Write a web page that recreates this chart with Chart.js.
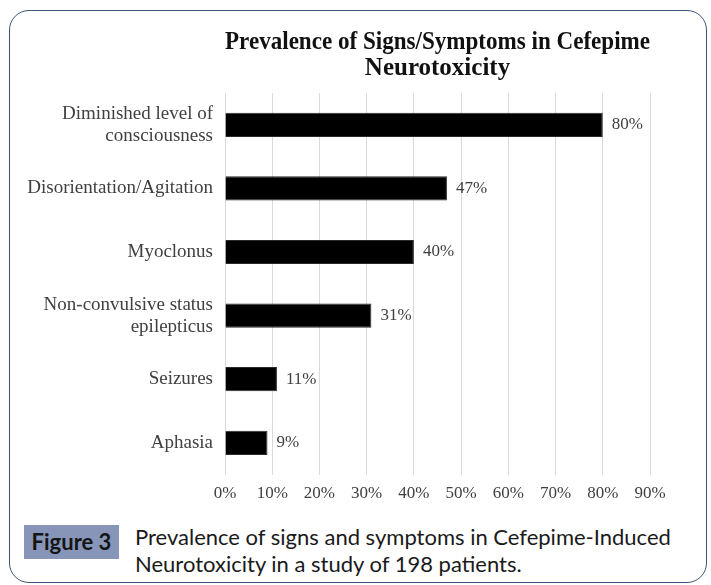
<!DOCTYPE html>
<html>
<head>
<meta charset="utf-8">
<script src="https://cdn.jsdelivr.net/npm/chart.js@4"></script>
<style>
  html, body { margin: 0; padding: 0; background: #fff; }
  body { width: 711px; height: 585px; position: relative; overflow: hidden; }
  .frame {
    position: absolute; left: 9px; top: 10px; width: 696px; height: 571px;
    border: 1.5px solid #3d5578; border-radius: 20px;
  }
  .chart-wrap { position: absolute; left: 10px; top: 10px; width: 696px; height: 503px; }
  .fig-tag {
    position: absolute; left: 24px; top: 525px; width: 95px; height: 34px;
    background: #8796b8; color: #151515; font: bold 22px Lato, sans-serif;
    line-height: 34px; text-align: center;
  }
  .caption {
    position: absolute; left: 135px; top: 523px; width: 570px;
    font: 22px Lato, sans-serif; color: #1a1a1a; line-height: 27px;
  }
</style>
</head>
<body>
<div class="frame"></div>
<div class="chart-wrap"><canvas id="myChart"></canvas></div>
<div class="fig-tag">Figure 3</div>
<div class="caption">Prevalence of signs and symptoms in Cefepime-Induced Neurotoxicity in a study of 198 patients.</div>
<script>
const categories = [
    ['Diminished level of', 'consciousness'],
    'Disorientation/Agitation',
    'Myoclonus',
    ['Non-convulsive status', 'epilepticus'],
    'Seizures',
    'Aphasia'
];
const prevalence = [80, 47, 40, 31, 11, 9];
const tickValues = [0, 10, 20, 30, 40, 50, 60, 70, 80, 90];

const serif = "'Liberation Serif', 'Times New Roman', serif";

// writes "80%" etc. just past the end of each bar
const valueLabels = {
    id: 'valueLabels',
    afterDatasetsDraw(chart) {
        const ctx = chart.ctx;
        const meta = chart.getDatasetMeta(0);
        ctx.save();
        ctx.font = '17px ' + serif;
        ctx.fillStyle = '#404040';
        ctx.textAlign = 'left';
        ctx.textBaseline = 'middle';
        meta.data.forEach((bar, i) => {
            ctx.fillText(prevalence[i] + '%', bar.x + 9, bar.y);
        });
        ctx.restore();
    }
};

let myChart;

function init() {
    const ctx = document.getElementById('myChart').getContext('2d');
    myChart = new Chart(ctx, {
        type: 'bar',
        data: {
            labels: categories,
            datasets: [{
                data: prevalence,
                backgroundColor: '#000',
                borderColor: '#2a2a2a',
                borderWidth: 1,
                categoryPercentage: 1,
                barPercentage: 0.38
            }]
        },
        options: {
            indexAxis: 'y',
            responsive: true,
            maintainAspectRatio: false,
            animation: false,
            layout: { padding: { top: 6, right: 56, bottom: 0, left: 0 } },
            scales: {
                x: {
                    min: 0,
                    max: 90,
                    afterBuildTicks(scale) {
                        scale.ticks = tickValues.map(v => ({ value: v }));
                    },
                    grid: { color: '#d9d9d9', lineWidth: 1, drawTicks: false },
                    border: { display: false },
                    ticks: {
                        padding: 9,
                        color: '#404040',
                        font: { family: serif, size: 17, lineHeight: 1.2 },
                        callback: v => v + '%'
                    }
                },
                y: {
                    afterFit(scale) { scale.width = 215; },
                    grid: { display: false, drawTicks: false },
                    border: { display: false },
                    ticks: {
                        padding: 12,
                        color: '#404040',
                        font: { family: serif, size: 19, lineHeight: 1.15 }
                    }
                }
            },
            plugins: {
                legend: { display: false },
                tooltip: { enabled: false },
                title: {
                    display: true,
                    fullSize: false,
                    text: ['Prevalence of Signs/Symptoms in Cefepime', 'Neurotoxicity'],
                    color: '#111',
                    font: { family: serif, size: 25, weight: 'bold', lineHeight: 1.04 },
                    padding: { top: 14, bottom: 11 }
                }
            }
        },
        plugins: [valueLabels]
    });
}

document.addEventListener('DOMContentLoaded', init);
</script>
</body>
</html>
